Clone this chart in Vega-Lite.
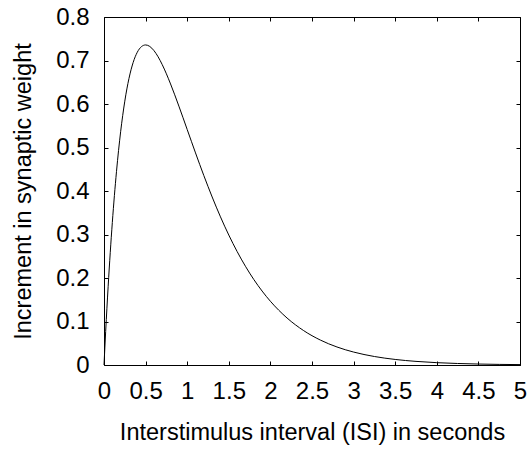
{
  "$schema": "https://vega.github.io/schema/vega-lite/v6.json",
  "width": 416,
  "height": 348,
  "autosize": "none",
  "padding": {"left": 104, "top": 17, "right": 8, "bottom": 92},
  "background": "white",
  "config": {
    "font": "Liberation Sans",
    "view": {"stroke": "black", "strokeWidth": 1},
    "axis": {
      "grid": false,
      "domain": false,
      "ticks": true,
      "tickColor": "black",
      "tickSize": -4,
      "tickWidth": 1,
      "labelColor": "black",
      "labelFont": "Liberation Sans",
      "labelFontSize": 24,
      "titleFont": "Liberation Sans",
      "titleFontSize": 23.5,
      "titleFontWeight": "normal",
      "titleColor": "black"
    }
  },
  "data": {
    "values": [
      {"t": 0, "w": 0},
      {"t": 0.01, "w": 0.03921},
      {"t": 0.02, "w": 0.07686},
      {"t": 0.05, "w": 0.18097},
      {"t": 0.1, "w": 0.32749},
      {"t": 0.15, "w": 0.44449},
      {"t": 0.2, "w": 0.53626},
      {"t": 0.25, "w": 0.60653},
      {"t": 0.3, "w": 0.65857},
      {"t": 0.35, "w": 0.69522},
      {"t": 0.4, "w": 0.71893},
      {"t": 0.45, "w": 0.73183},
      {"t": 0.5, "w": 0.73576},
      {"t": 0.55, "w": 0.73232},
      {"t": 0.6, "w": 0.72287},
      {"t": 0.65, "w": 0.70858},
      {"t": 0.7, "w": 0.69047},
      {"t": 0.75, "w": 0.66939},
      {"t": 0.8, "w": 0.64607},
      {"t": 0.85, "w": 0.62112},
      {"t": 0.9, "w": 0.59508},
      {"t": 0.95, "w": 0.56836},
      {"t": 1.0, "w": 0.54134},
      {"t": 1.1, "w": 0.48753},
      {"t": 1.2, "w": 0.43545},
      {"t": 1.3, "w": 0.38622},
      {"t": 1.4, "w": 0.34054},
      {"t": 1.5, "w": 0.29872},
      {"t": 1.6, "w": 0.26088},
      {"t": 1.7, "w": 0.22694},
      {"t": 1.8, "w": 0.19673},
      {"t": 1.9, "w": 0.17002},
      {"t": 2.0, "w": 0.14653},
      {"t": 2.2, "w": 0.10804},
      {"t": 2.4, "w": 0.07901},
      {"t": 2.6, "w": 0.05737},
      {"t": 2.8, "w": 0.04142},
      {"t": 3.0, "w": 0.02975},
      {"t": 3.25, "w": 0.01954},
      {"t": 3.5, "w": 0.01277},
      {"t": 3.75, "w": 0.0083},
      {"t": 4.0, "w": 0.00537},
      {"t": 4.5, "w": 0.00222},
      {"t": 5.0, "w": 0.00091}
    ]
  },
  "layer": [
    {
      "mark": {"type": "line", "color": "black", "strokeWidth": 1, "interpolate": "monotone"},
      "encoding": {
        "x": {
          "field": "t", "type": "quantitative",
          "scale": {"domain": [0, 5], "nice": false, "zero": false},
          "axis": {
            "orient": "bottom",
            "values": [0, 0.5, 1, 1.5, 2, 2.5, 3, 3.5, 4, 4.5, 5],
            "format": "~g",
            "labelPadding": 18,
            "labelFlush": false,
            "labelOverlap": false,
            "title": "Interstimulus interval (ISI) in seconds",
            "titlePadding": 17
          }
        },
        "y": {
          "field": "w", "type": "quantitative",
          "scale": {"domain": [0, 0.8], "nice": false},
          "axis": {
            "orient": "left",
            "values": [0, 0.1, 0.2, 0.3, 0.4, 0.5, 0.6, 0.7, 0.8],
            "format": "~g",
            "labelPadding": 19,
            "labelFlush": false,
            "labelOverlap": false,
            "title": "Increment in synaptic weight",
            "titlePadding": 20
          }
        }
      }
    },
    {
      "mark": {"type": "line", "opacity": 0},
      "encoding": {
        "x": {
          "field": "t", "type": "quantitative",
          "axis": {"orient": "top", "values": [0, 0.5, 1, 1.5, 2, 2.5, 3, 3.5, 4, 4.5, 5], "labels": false, "title": null}
        },
        "y": {
          "field": "w", "type": "quantitative",
          "axis": {"orient": "right", "values": [0, 0.1, 0.2, 0.3, 0.4, 0.5, 0.6, 0.7, 0.8], "labels": false, "title": null}
        }
      }
    }
  ],
  "resolve": {"axis": {"x": "independent", "y": "independent"}}
}
